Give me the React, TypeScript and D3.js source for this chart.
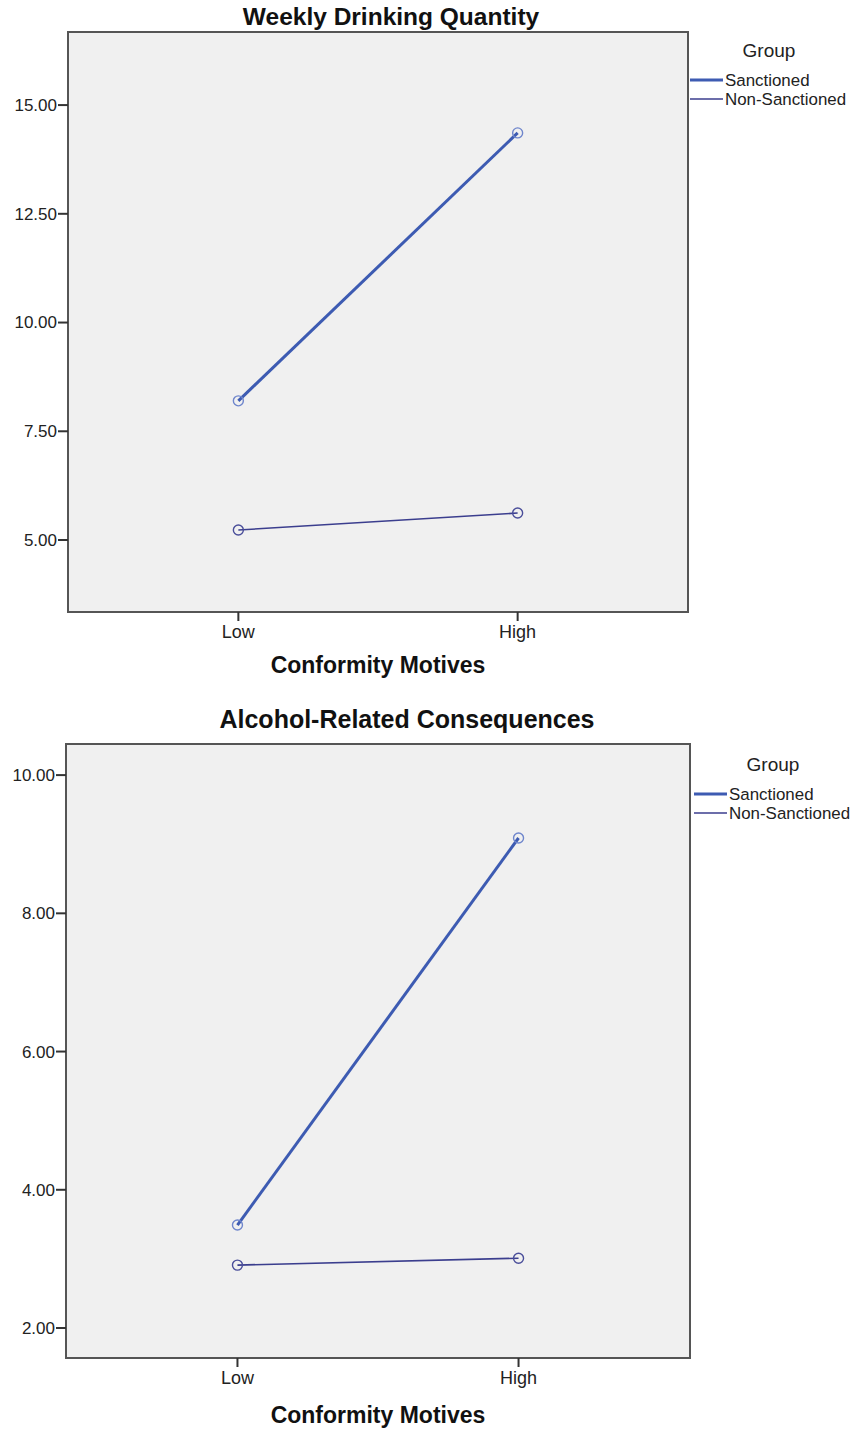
import React from "react";
import * as d3 from "d3";

const categories = ["Low", "High"];
const groups = ["Sanctioned", "Non-Sanctioned"];

const weeklySanctioned = [8.2, 14.36];
const weeklyNonSanctioned = [5.23, 5.62];
const weeklyTicks = [5, 7.5, 10, 12.5, 15];

const consSanctioned = [3.49, 9.09];
const consNonSanctioned = [2.91, 3.01];
const consTicks = [2, 4, 6, 8, 10];

const FONT = "'Liberation Sans', Arial, sans-serif";
const colors = ["#3d5bb2", "#3b3e8e"];
const widths = [3, 1.6];

type PanelProps = {
  title: string;
  titleSize: number;
  series: number[][];
  ticks: number[];
  domain: [number, number];
  box: { x0: number; x1: number; y0: number; y1: number };
  titleX: number;
  titleY: number;
  axisTitleY: number;
  legendX: number;
  legendY: number;
};

function Panel(p: PanelProps) {
  const { box } = p;
  const x = d3.scalePoint<string>().domain(categories).range([box.x0, box.x1]).padding(0.61);
  const y = d3.scaleLinear().domain(p.domain).range([box.y1, box.y0]);
  const line = d3
    .line<[string, number]>()
    .x((d) => x(d[0]) as number)
    .y((d) => y(d[1]));
  return (
    <g>
      <text x={p.titleX} y={p.titleY} textAnchor="middle" fontFamily={FONT} fontWeight="bold" fontSize={p.titleSize} fill="#111">
        {p.title}
      </text>
      <rect x={box.x0} y={box.y0} width={box.x1 - box.x0} height={box.y1 - box.y0} fill="#f0f0f0" stroke="#555" strokeWidth={2} />
      {p.ticks.map((t) => (
        <g key={t}>
          <line x1={box.x0 - 10} x2={box.x0} y1={y(t)} y2={y(t)} stroke="#333" strokeWidth={2} />
          <text x={box.x0 - 11} y={y(t)} dy="0.35em" textAnchor="end" fontFamily={FONT} fontSize={17} fill="#222">
            {d3.format(".2f")(t)}
          </text>
        </g>
      ))}
      {categories.map((c) => (
        <g key={c}>
          <line x1={x(c)} x2={x(c)} y1={box.y1} y2={box.y1 + 9} stroke="#333" strokeWidth={2} />
          <text x={x(c)} y={box.y1 + 26} textAnchor="middle" fontFamily={FONT} fontSize={18} fill="#222">
            {c}
          </text>
        </g>
      ))}
      <text x={(x("Low")! + x("High")!) / 2} y={p.axisTitleY} textAnchor="middle" fontFamily={FONT} fontWeight="bold" fontSize={23} fill="#111">
        Conformity Motives
      </text>
      {p.series.map((vals, i) => {
        const pts: [string, number][] = categories.map((c, j) => [c, vals[j]]);
        return (
          <g key={i}>
            <path d={line(pts) || ""} fill="none" stroke={colors[i]} strokeWidth={widths[i]} />
            {pts.map((d, j) => (
              <g key={j}>
                <circle cx={x(d[0])} cy={y(d[1])} r={5} fill="none" stroke={i === 0 ? "#6f86cc" : "#4a4e9a"} strokeWidth={1.4} />
              </g>
            ))}
          </g>
        );
      })}
      <text x={p.legendX + 79} y={p.legendY} textAnchor="middle" fontFamily={FONT} fontSize={19} fill="#222">
        Group
      </text>
      {groups.map((g, i) => (
        <g key={g}>
          <line x1={p.legendX} x2={p.legendX + 33} y1={p.legendY + 23 + i * 19} y2={p.legendY + 23 + i * 19} stroke={colors[i]} strokeWidth={widths[i]} />
          <text x={p.legendX + 35} y={p.legendY + 23 + i * 19} dy="0.35em" fontFamily={FONT} fontSize={16.9} fill="#222">
            {g}
          </text>
        </g>
      ))}
    </g>
  );
}

export default function App() {
  return (
    <svg width={854} height={1429} style={{ position: "absolute", left: 0, top: 0, background: "#fff" }}>
      <Panel
        title="Weekly Drinking Quantity"
        titleSize={24.5}
        series={[weeklySanctioned, weeklyNonSanctioned]}
        ticks={weeklyTicks}
        domain={[3.345, 16.68]}
        box={{ x0: 68, x1: 688, y0: 32, y1: 612 }}
        titleX={391}
        titleY={25}
        axisTitleY={673}
        legendX={690}
        legendY={57}
      />
      <Panel
        title="Alcohol-Related Consequences"
        titleSize={25}
        series={[consSanctioned, consNonSanctioned]}
        ticks={consTicks}
        domain={[1.566, 10.45]}
        box={{ x0: 66, x1: 690, y0: 744, y1: 1358 }}
        titleX={407}
        titleY={728}
        axisTitleY={1423}
        legendX={694}
        legendY={771}
      />
    </svg>
  );
}
